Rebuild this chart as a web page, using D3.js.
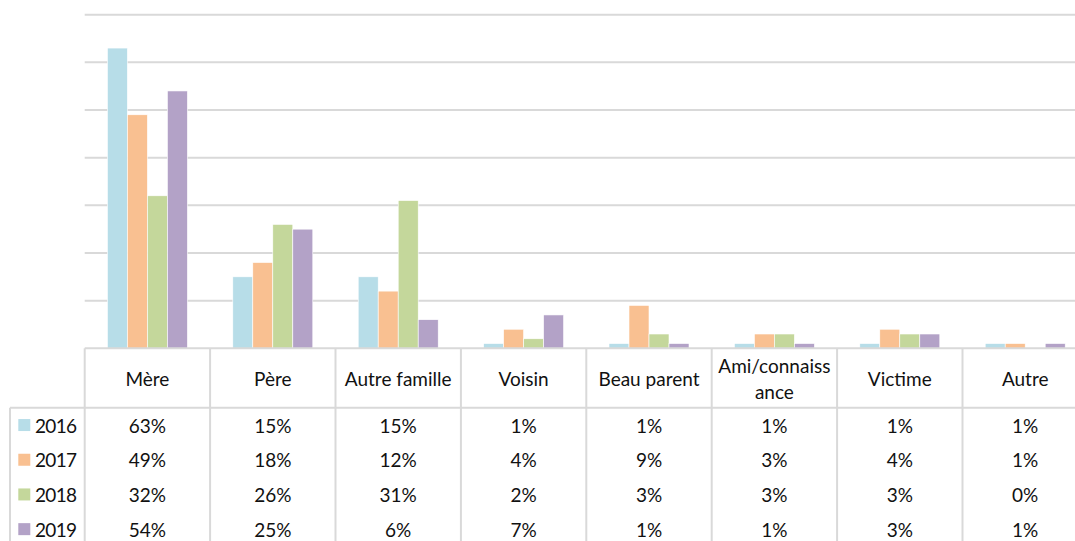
<!DOCTYPE html>
<html><head><meta charset="utf-8">
<script src="https://cdn.jsdelivr.net/npm/d3@7"></script>
<style>
html,body{margin:0;padding:0;background:#fff;overflow:hidden}
svg{display:block}
text{font-family:Lato,"Open Sans",sans-serif;fill:#111}
</style></head>
<body>
<svg id="chart" width="1075" height="541"></svg>
<script>
const categories = ["Mère","Père","Autre famille","Voisin","Beau parent","Ami/connaissance","Victime","Autre"];
const categoryLines = [["Mère"],["Père"],["Autre famille"],["Voisin"],["Beau parent"],["Ami/connaiss","ance"],["Victime"],["Autre"]];
const years = ["2016","2017","2018","2019"];
const v2016 = [63,15,15,1,1,1,1,1];
const v2017 = [49,18,12,4,9,3,4,1];
const v2018 = [32,26,31,2,3,3,3,0];
const v2019 = [54,25,6,7,1,1,3,1];
const yTicks = [0,10,20,30,40,50,60,70];
const colors = ["#b7dde8","#f9c091","#c4d79b","#b3a2c7"];

const series = [v2016,v2017,v2018,v2019];
const svg = d3.select("#chart");
const W = 1075, H = 541;
const plotLeft = 84.7, colW = 125.4;
const yTop = 14.7, yBase = 348.3, headerBottom = 407.7, rowH = 34.7, tableLeft = 10;
const gridColor = "#d9d9d9";

const x = d3.scaleBand().domain(categories).range([plotLeft, plotLeft + colW*categories.length]).padding(0);
const xi = d3.scaleBand().domain(years).range([0, x.bandwidth()]).paddingInner(0).paddingOuter(1.135);
const y = d3.scaleLinear().domain([0,70]).range([yBase, yTop]);

// gridlines
svg.append("g").selectAll("line").data(yTicks.filter(t=>t>0)).join("line")
  .attr("x1", plotLeft).attr("x2", W)
  .attr("y1", d=>y(d)).attr("y2", d=>y(d))
  .attr("stroke", gridColor).attr("stroke-width", 2);

// bars
const gBars = svg.append("g");
years.forEach((yr, si) => {
  gBars.append("g").selectAll("rect").data(categories.map((c,i)=>({c, v: series[si][i]}))).join("rect")
    .attr("x", d => x(d.c) + xi(yr))
    .attr("width", xi.bandwidth())
    .attr("y", d => y(d.v))
    .attr("height", d => yBase - y(d.v))
    .attr("fill", colors[si])
    .attr("stroke", "#ffffff").attr("stroke-width", 0.6);
});

// table lines
const gT = svg.append("g").attr("stroke", gridColor).attr("stroke-width", 2);
gT.append("line").attr("x1", plotLeft).attr("x2", W).attr("y1", yBase).attr("y2", yBase);
gT.append("line").attr("x1", tableLeft).attr("x2", W).attr("y1", headerBottom).attr("y2", headerBottom);
gT.append("line").attr("x1", tableLeft).attr("x2", tableLeft).attr("y1", headerBottom).attr("y2", H);
const bounds = categories.map(c => x(c)).concat([x.range()[1]]);
gT.selectAll("line.v").data(bounds).join("line").attr("class","v")
  .attr("x1", d=>d).attr("x2", d=>d).attr("y1", yBase).attr("y2", H);

// header labels
const fs = 19;
categories.forEach((c,i) => {
  const lines = categoryLines[i];
  const cx = x(c) + x.bandwidth()/2;
  const cy = (yBase + headerBottom)/2;
  const lh = 26;
  lines.forEach((ln, j) => {
    svg.append("text").attr("x", cx).attr("y", cy + (j - (lines.length-1)/2)*lh)
      .attr("text-anchor","middle").attr("dominant-baseline","central")
      .attr("font-size", fs).text(ln);
  });
});

// data rows
years.forEach((yr, si) => {
  const cy = headerBottom + rowH*(si + 0.5);
  svg.append("rect").attr("x", 18.3).attr("y", cy - 6).attr("width", 12).attr("height", 12).attr("fill", colors[si]);
  svg.append("text").attr("x", 35).attr("y", cy).attr("dominant-baseline","central")
    .attr("font-size", fs).attr("textLength", 42).text(yr);
  categories.forEach((c,i) => {
    svg.append("text").attr("x", x(c) + x.bandwidth()/2).attr("y", cy)
      .attr("text-anchor","middle").attr("dominant-baseline","central")
      .attr("font-size", fs).text(series[si][i] + "%");
  });
});
</script>
</body></html>
